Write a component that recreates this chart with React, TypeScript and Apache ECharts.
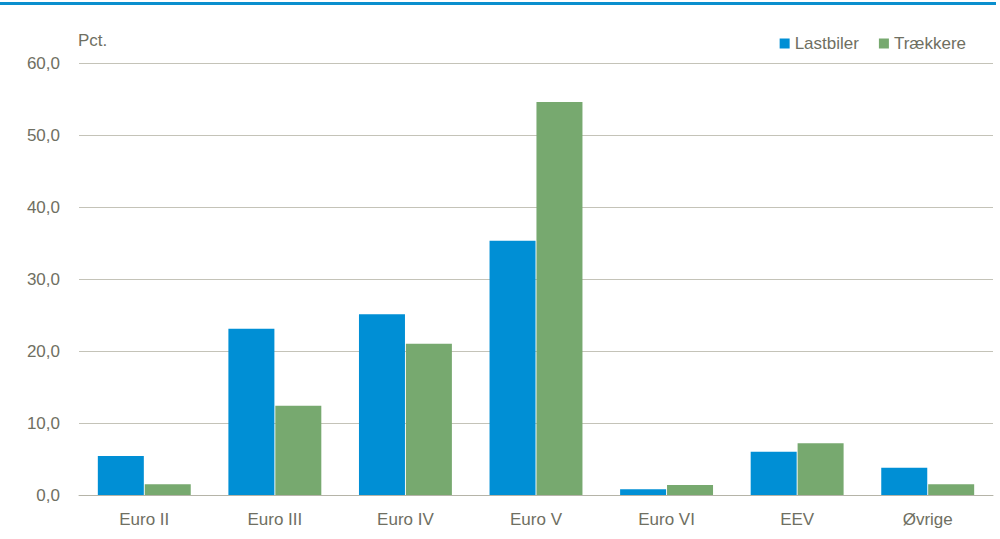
import React, { useEffect, useRef } from "react";
import * as echarts from "echarts";

const categories = ["Euro II", "Euro III", "Euro IV", "Euro V", "Euro VI", "EEV", "Øvrige"];
const lastbiler = [5.4, 23.1, 25.1, 35.3, 0.8, 6.0, 3.8];
const traekkere = [1.5, 12.4, 21.0, 54.6, 1.4, 7.2, 1.5];
const seriesNames = ["Lastbiler", "Trækkere"];
const unitLabel = "Pct.";

const textColor = "#6f6f62";
const font = "'Liberation Sans', Arial, sans-serif";
const fs = 17;

export default function App() {
  const ref = useRef<HTMLDivElement>(null);
  useEffect(() => {
    document.body.style.margin = "0";
    const chart = echarts.init(ref.current!, null, { renderer: "svg" });
    chart.setOption({
      animation: false,
      textStyle: { fontFamily: font },
      grid: { left: 79, right: 7, top: 63, bottom: 44, containLabel: false },
      legend: {
        data: seriesNames,
        right: 29,
        top: 30,
        icon: "rect",
        itemWidth: 10,
        itemHeight: 10,
        itemGap: 20,
        textStyle: { color: textColor, fontSize: fs, fontFamily: font },
      },
      graphic: [
        {
          type: "rect",
          shape: { x: 0, y: 2, width: 996, height: 3 },
          style: { fill: "#0a8fce" },
        },
        {
          type: "text",
          x: 78,
          y: 32,
          style: { text: unitLabel, fill: textColor, font: `${fs}px ${font}` },
        },
      ],
      xAxis: {
        type: "category",
        data: categories,
        axisLine: { lineStyle: { color: "#b5b4a8", width: 1 } },
        axisTick: { show: false },
        axisLabel: { color: textColor, fontSize: fs, margin: 16, fontFamily: font },
      },
      yAxis: {
        type: "value",
        min: 0,
        max: 60,
        interval: 10,
        axisLine: { show: false },
        axisTick: { show: false },
        splitLine: { lineStyle: { color: "#c4c3b8", width: 1 } },
        axisLabel: {
          color: textColor,
          fontSize: fs,
          margin: 19,
          fontFamily: font,
          formatter: (v: number) => v.toFixed(1).replace(".", ","),
        },
      },
      series: [
        {
          name: seriesNames[0],
          type: "bar",
          data: lastbiler,
          barWidth: 46,
          barGap: "2%",
          itemStyle: { color: "#008fd5" },
        },
        {
          name: seriesNames[1],
          type: "bar",
          data: traekkere,
          barWidth: 46,
          itemStyle: { color: "#77a96f" },
        },
      ],
    });
    return () => chart.dispose();
  }, []);
  return <div ref={ref} style={{ width: 1000, height: 539 }} />;
}
